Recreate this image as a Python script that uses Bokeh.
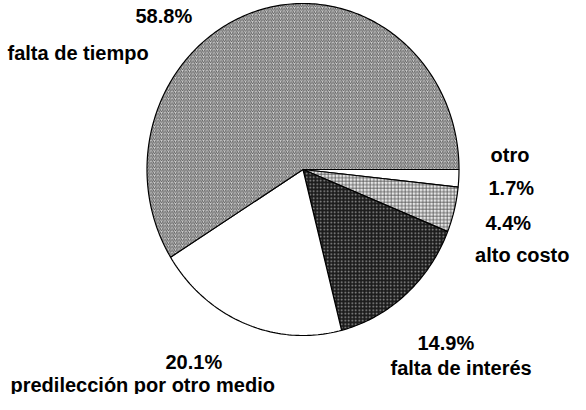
import numpy as np
from bokeh.plotting import figure
from bokeh.models import ColumnDataSource, Range1d
from bokeh.embed import file_html
from bokeh.resources import INLINE
from bokeh.core.properties import value

categories = ["otro", "alto costo", "falta de interés", "predilección por otro medio", "falta de tiempo"]
values = [1.7, 4.4, 14.9, 20.1, 58.8]
pct_labels = ["1.7%", "4.4%", "14.9%", "20.1%", "58.8%"]

fills = ["#ffffff", "#e6e6e6", "#1c1c1c", "#ffffff", "#cfcfcf"]
hatches = [" ", "cross", "dot", " ", "right_diagonal_line"]
hatch_colors = ["#000000", "#555555", "#9a9a9a", "#000000", "#3a3a3a"]

W, H = 570, 394
cx, cy, rx, ry = 302.5, H - 169, 156, 166

total = sum(values)
xs, ys = [], []
a = 0.0
for v in values:
    span = v / total * 2 * np.pi
    t = np.linspace(a, a - span, max(8, int(span * 60)))
    xs.append([cx] + list(cx + rx * np.cos(t)))
    ys.append([cy] + list(cy + ry * np.sin(t)))
    a -= span

src = ColumnDataSource(dict(xs=xs, ys=ys, fill=fills, hatch=hatches, hc=hatch_colors))

p = figure(width=W, height=H, output_backend="svg", toolbar_location=None,
           x_range=Range1d(0, W), y_range=Range1d(0, H), min_border=0)
p.axis.visible = False
p.grid.visible = False
p.outline_line_color = None

p.patches(xs="xs", ys="ys", source=src, fill_color="fill", line_color="black", line_width=1.2,
          hatch_pattern="hatch", hatch_color="hc", hatch_scale=3.5, hatch_weight=0.8)

font = value("Liberation Sans")
fs = "20px"

# label layout: anchor x, baseline y (screen px from top-left), alignment
cat_pos = [(490, 154), (569, 254), (390, 367), (10, 384), (7, 52)]
cat_align = ["left", "right", "left", "left", "left"]
pct_pos = [(488, 187), (485, 222), (417, 342), (165, 361), (135, 15)]

p.text(x=[c[0] for c in cat_pos], y=[H - c[1] for c in cat_pos], text=categories,
       text_align=cat_align, text_baseline="alphabetic", text_font_size=fs,
       text_font_style="bold", text_color="black", text_font=font)
p.text(x=[c[0] for c in pct_pos], y=[H - c[1] for c in pct_pos], text=pct_labels,
       text_align="left", text_baseline="alphabetic", text_font_size=fs,
       text_font_style="bold", text_color="black", text_font=font)

open("out.html", "w").write(file_html(p, INLINE))
